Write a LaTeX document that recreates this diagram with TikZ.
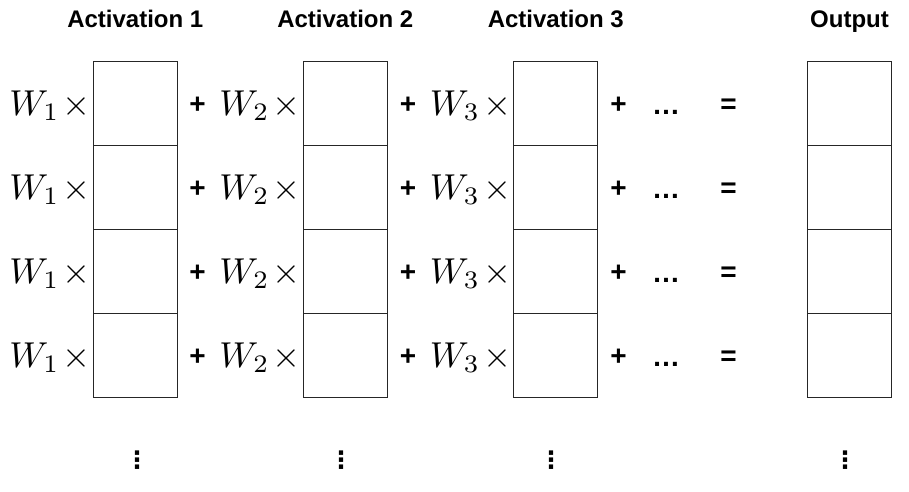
\documentclass[tikz,border=0pt]{standalone}
\usepackage{fontspec}
\newfontfamily\lab{Liberation Sans}
\newfontfamily\dej{DejaVu Sans}
\tikzset{
  cell/.style={draw=black!85, line width=1.1pt, minimum width=84pt, minimum height=84pt, inner sep=0pt},
  title/.style={anchor=base, inner sep=0pt, font=\lab\bfseries\fontsize{24}{28}\selectfont},
  op/.style={anchor=base, inner sep=0pt, font=\lab\bfseries\fontsize{28}{32}\selectfont},
  wt/.style={anchor=base east, inner sep=0pt, font=\fontsize{10}{12}\selectfont, scale=3.6},
  vd/.style={anchor=center, inner sep=0pt, font=\dej\bfseries\fontsize{24}{28}\selectfont},
}
\begin{document}
\begin{tikzpicture}[x=1pt,y=-1pt]
\useasboundingbox (0,0) rectangle (909,491);
% titles
\node[title] (t1) at (135.3,27.3) {Activation 1};
\node[title] (t2) at (345.3,27.3) {Activation 2};
\node[title] (t3) at (555.8,27.3) {Activation 3};
\node[title] (to) at (849.5,27.3) {Output};
\foreach \r/\y in {1/103.7,2/187.7,3/271.7,4/355.7}{
  \node[cell] (a\r) at (135.3,\y) {};
  \node[cell] (b\r) at (345.3,\y) {};
  \node[cell] (c\r) at (555.8,\y) {};
  \node[cell] (o\r) at (849.5,\y) {};
  \node[wt] (wa\r) at ([xshift=-1.4pt,yshift=-11.3pt]a\r.west) {$W_1\mskip1.5mu\times$};
  \node[wt] (wb\r) at ([xshift=-1.4pt,yshift=-11.3pt]b\r.west) {$W_2\mskip1.5mu\times$};
  \node[wt] (wc\r) at ([xshift=-1.4pt,yshift=-11.3pt]c\r.west) {$W_3\mskip1.5mu\times$};
  \node[op] (pa\r) at (197.5,\y+9.5) {+};
  \node[op] (pb\r) at (408,\y+9.5) {+};
  \node[op] (pc\r) at (618.5,\y+9.5) {+};
  \node[op] (el\r) at (666,\y+11) {…};
  \node[op] (eq\r) at (728.5,\y+9.5) {=};
}
\node[vd] (va) at (137,460) {⋮};
\node[vd] (vb) at (341,460) {⋮};
\node[vd] (vc) at (551,460) {⋮};
\node[vd] (vo) at (845,460) {⋮};
\end{tikzpicture}
\end{document}
